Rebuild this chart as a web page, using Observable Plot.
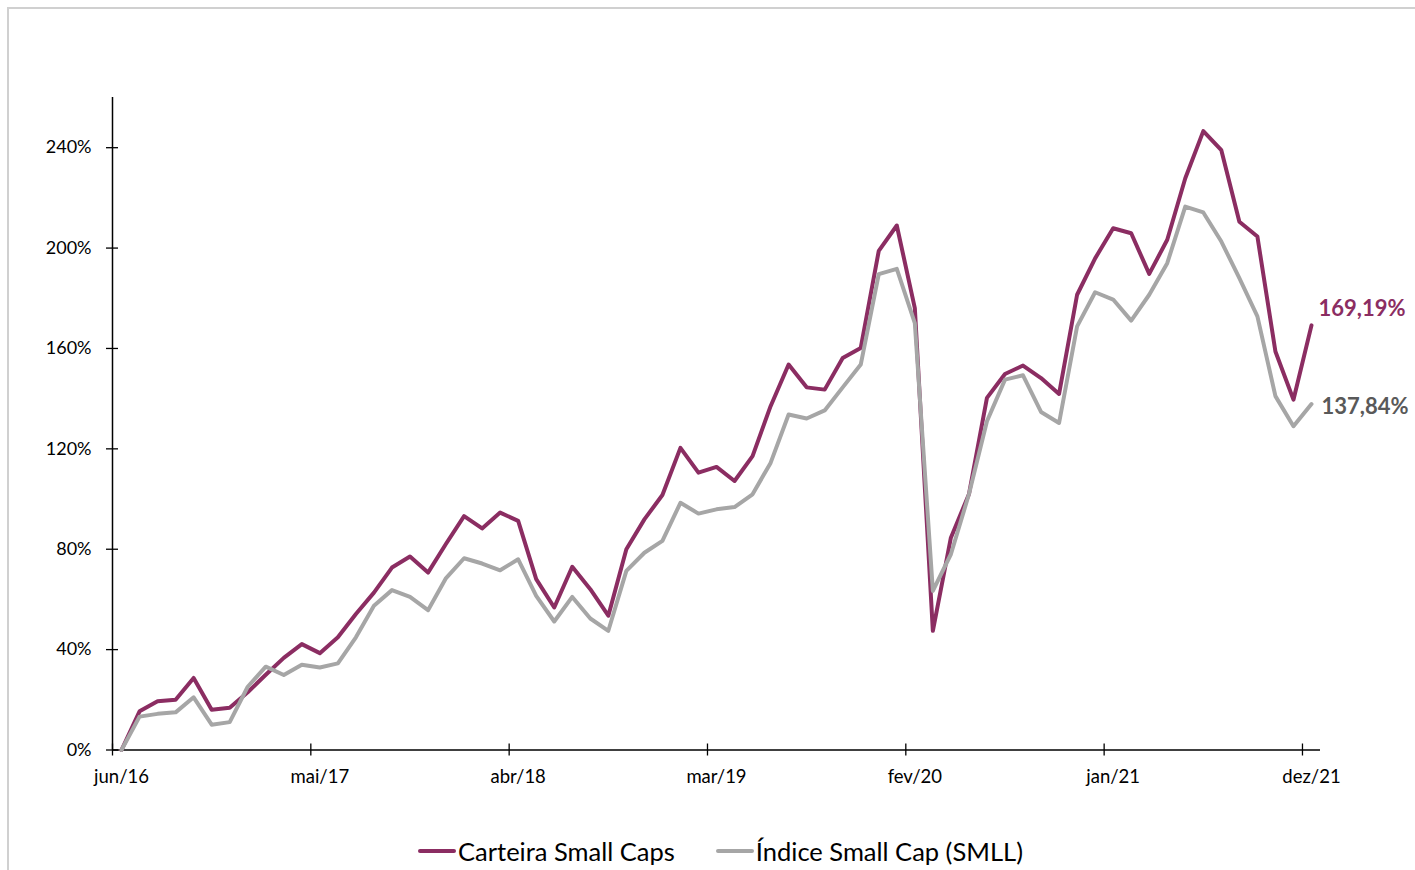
<!DOCTYPE html>
<html>
<head>
<meta charset="utf-8">
<script src="https://cdn.jsdelivr.net/npm/d3@7"></script>
<script src="https://cdn.jsdelivr.net/npm/@observablehq/plot@0.6"></script>
<style>
  html, body { margin: 0; padding: 0; background: #fff; }
  #wrap { position: relative; width: 1415px; height: 870px; overflow: hidden; font-family: Lato, "Open Sans", sans-serif; }
  #frame { position: absolute; left: 7px; top: 7px; width: 1420px; height: 880px; border-left: 2px solid #d0d0d0; border-top: 2px solid #d0d0d0; box-sizing: border-box; }
  #chart { position: absolute; left: 0; top: 0; }
  #legend { position: absolute; left: 13px; top: 836px; width: 1415px; display: flex; justify-content: center; align-items: center; gap: 41px; font-size: 25.5px; color: #000; }
  .item { display: flex; align-items: center; }
  .swatch { width: 38px; height: 4px; border-radius: 2px; margin-right: 2px; }
</style>
</head>
<body>
<div id="wrap">
  <div id="frame"></div>
  <div id="chart"></div>
  <div id="legend"></div>
</div>
<script>
// ---- data ----
const seriesNames = ["Carteira Small Caps", "Índice Small Cap (SMLL)"];
const seriesColors = ["#8B2D62", "#A6A6A6"];
const labelColors = ["#8B2D62", "#595959"];
const tickLabels = ["jun/16", "mai/17", "abr/18", "mar/19", "fev/20", "jan/21", "dez/21"];
const tickIndex = [0, 11, 22, 33, 44, 55, 66];
const yTicks = [0, 40, 80, 120, 160, 200, 240];
const endLabels = ["169,19%", "137,84%"];

const carteira = [
  0, 15.4, 19.4, 20.0, 28.7, 16.0, 16.8, 23.0, 30.0, 36.7,
  42.2, 38.6, 44.9, 54.2, 62.7, 72.7, 77.1, 70.7, 82.2, 93.2,
  88.3, 94.6, 91.3, 68.1, 56.8, 73.0, 64.1, 53.5, 80.0, 91.9,
  101.6, 120.4, 110.5, 112.8, 107.2, 117.1, 137.0, 153.6, 144.5, 143.6,
  156.2, 160.2, 198.9, 209.0, 176.1, 47.5, 84.6, 101.9, 140.3, 149.8,
  153.2, 148.2, 141.9, 181.4, 195.9, 207.9, 205.9, 189.7, 203.3, 227.8,
  246.6, 239.0, 210.5, 204.6, 158.8, 139.6, 169.19
];
const smll = [
  0, 13.3, 14.4, 15.0, 21.0, 10.1, 11.1, 25.2, 33.2, 29.9,
  34.0, 32.9, 34.5, 44.9, 57.5, 63.7, 61.0, 55.7, 68.5, 76.4,
  74.3, 71.6, 76.0, 61.4, 51.2, 61.0, 52.4, 47.5, 71.4, 78.6,
  83.3, 98.5, 94.2, 95.9, 96.8, 101.9, 114.4, 133.7, 132.1, 135.3,
  144.5, 153.6, 189.6, 191.7, 170.1, 63.4, 78.0, 101.9, 131.0, 147.6,
  149.3, 134.7, 130.3, 168.8, 182.4, 179.5, 171.1, 181.4, 194.0, 216.5,
  214.2, 202.6, 188.0, 172.8, 141.0, 129.0, 137.84
];

// ---- build table ----
const rows = [];
[carteira, smll].forEach((vals, s) => vals.forEach((v, i) => rows.push({i, v, s: seriesNames[s]})));
const last = [
  {i: carteira.length - 1, v: carteira[carteira.length - 1], t: endLabels[0], c: labelColors[0]},
  {i: smll.length - 1, v: smll[smll.length - 1], t: endLabels[1], c: labelColors[1]}
];
const boundaries = tickIndex.map(k => k - 0.5);
const n = carteira.length;

const chart = Plot.plot({
  width: 1415,
  height: 830,
  marginLeft: 112,
  marginRight: 95,
  marginTop: 97,
  marginBottom: 80.5,
  x: {domain: [-0.5, n - 0.5], label: null},
  y: {domain: [0, 260], label: null},
  color: {domain: seriesNames, range: seriesColors},
  style: {fontFamily: "Lato, 'Open Sans', sans-serif", fontSize: "18px", color: "#000", background: "transparent"},
  marks: [
    Plot.axisY({ticks: yTicks, tickSize: 12, dx: 6, tickPadding: 15, tickFormat: d => d + "%", stroke: "#000", strokeWidth: 1.3, fill: "#000", fontSize: 18}),
    Plot.axisX({ticks: boundaries, tickSize: 12, dy: -6, tickFormat: () => "", stroke: "#000", strokeWidth: 1.3}),
    Plot.axisX({ticks: tickIndex, tickSize: 0, tickPadding: 20, tickFormat: d => tickLabels[tickIndex.indexOf(d)], fill: "#000", fontSize: 18.5}),
    Plot.ruleX([-0.5], {stroke: "#000", strokeWidth: 1.5}),
    Plot.ruleY([0], {stroke: "#000", strokeWidth: 1.5}),
    Plot.line(rows.filter(d => d.s === seriesNames[0]), {x: "i", y: "v", stroke: "s", strokeWidth: 4}),
    Plot.line(rows.filter(d => d.s === seriesNames[1]), {x: "i", y: "v", stroke: "s", strokeWidth: 4}),
    Plot.text([last[0]], {x: "i", y: "v", text: "t", fill: "c", textAnchor: "start", dx: 7, dy: -16, fontSize: 22, fontWeight: "bold"}),
    Plot.text([last[1]], {x: "i", y: "v", text: "t", fill: "c", textAnchor: "start", dx: 10, dy: 3, fontSize: 22, fontWeight: "bold"})
  ]
});
document.getElementById("chart").appendChild(chart);

const legend = document.getElementById("legend");
seriesNames.forEach((name, k) => {
  const item = document.createElement("div");
  item.className = "item";
  const sw = document.createElement("span");
  sw.className = "swatch";
  sw.style.background = seriesColors[k];
  const tx = document.createElement("span");
  tx.textContent = name;
  item.appendChild(sw);
  item.appendChild(tx);
  legend.appendChild(item);
});
</script>
</body>
</html>
